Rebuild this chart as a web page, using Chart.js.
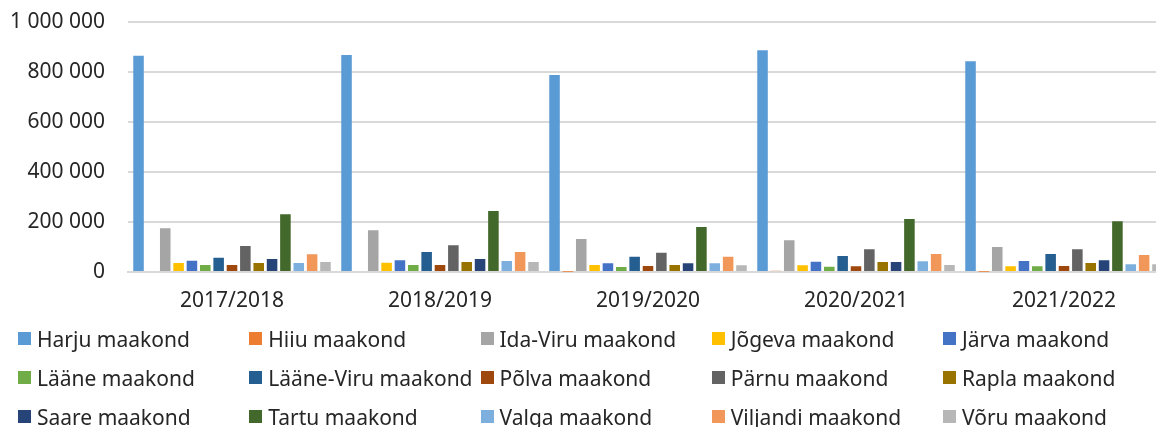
<!DOCTYPE html>
<html>
<head>
<meta charset="utf-8">
<script src="https://cdn.jsdelivr.net/npm/chart.js@4"></script>
<style>
    html, body { margin: 0; padding: 0; background: #fff; overflow: hidden; }
    #wrap { position: relative; width: 1156px; height: 427px; overflow: hidden; }
    #chart { position: absolute; left: 0; top: 0; }
    #legend { position: absolute; left: 0; top: 0; width: 1156px; height: 427px; font-family: "Noto Sans", sans-serif; font-size: 21px; color: #262626; }
    .item { position: absolute; white-space: nowrap; display: flex; align-items: center; height: 26px; line-height: 26px; }
    .box { width: 13px; height: 13px; margin-right: 6px; }
</style>
</head>
<body>
<div id="wrap">
    <canvas id="chart" width="1170" height="320"></canvas>
    <div id="legend"></div>
</div>
<script>
// Data
const years = ['2017/2018', '2018/2019', '2019/2020', '2020/2021', '2021/2022'];
const counties = ['Harju maakond', 'Hiiu maakond', 'Ida-Viru maakond', 'Jõgeva maakond', 'Järva maakond',
    'Lääne maakond', 'Lääne-Viru maakond', 'Põlva maakond', 'Pärnu maakond', 'Rapla maakond',
    'Saare maakond', 'Tartu maakond', 'Valga maakond', 'Viljandi maakond', 'Võru maakond'];
const colors = ['#5B9BD5', '#ED7D31', '#A5A5A5', '#FFC000', '#4472C4',
    '#70AD47', '#255E91', '#9E480E', '#636363', '#997300',
    '#264478', '#43682B', '#7CAFDD', '#F1975A', '#B7B7B7'];

const harju = [865000, 868000, 788000, 887000, 843000];
const hiiu = [4000, 4000, 1000, 5000, 1000];
const idaViru = [175000, 167000, 132000, 127000, 100000];
const jogeva = [36000, 37000, 28000, 27000, 23000];
const jarva = [45000, 47000, 35000, 41000, 44000];
const laane = [28000, 28000, 20000, 21000, 23000];
const laaneViru = [57000, 80000, 61000, 64000, 72000];
const polva = [28000, 28000, 24000, 23000, 24000];
const parnu = [104000, 107000, 77000, 91000, 91000];
const rapla = [36000, 40000, 28000, 40000, 36000];
const saare = [52000, 52000, 35000, 40000, 47000];
const tartu = [231000, 244000, 180000, 212000, 203000];
const valga = [36000, 44000, 35000, 43000, 31000];
const viljandi = [71000, 80000, 61000, 72000, 68000];
const voru = [40000, 40000, 27000, 28000, 31000];

const seriesValues = [harju, hiiu, idaViru, jogeva, jarva, laane, laaneViru, polva,
    parnu, rapla, saare, tartu, valga, viljandi, voru];

const yTicks = [0, 200000, 400000, 600000, 800000, 1000000];

function formatNumber(v) {
    return String(v).replace(/\B(?=(\d{3})+(?!\d))/g, ' ');
}

const fontFamily = '"Noto Sans", sans-serif';

const datasets = counties.map((name, i) => ({
    label: name,
    data: seriesValues[i],
    backgroundColor: colors[i],
    barPercentage: 0.79,
    categoryPercentage: 0.963
}));

new Chart(document.getElementById('chart').getContext('2d'), {
    type: 'bar',
    data: { labels: years, datasets: datasets },
    options: {
        responsive: false,
        animation: false,
        layout: { padding: { top: 22, left: 0, right: 2, bottom: 0 } },
        plugins: {
            legend: { display: false },
            tooltip: { enabled: false }
        },
        scales: {
            y: {
                min: 0,
                max: 1000000,
                afterBuildTicks: function(scale) {
                    scale.ticks = yTicks.map(v => ({ value: v }));
                },
                afterFit: function(scale) {
                    scale.width = 128;
                    scale.paddingTop = 0;
                    scale.paddingBottom = 0;
                },
                border: { display: false },
                grid: { color: '#d9d9d9', lineWidth: 2, drawTicks: false },
                ticks: {
                    padding: 23,
                    color: '#262626',
                    font: { family: fontFamily, size: 21 },
                    callback: function(value) { return formatNumber(value); }
                }
            },
            x: {
                afterFit: function(scale) { scale.height = 48; },
                border: { color: '#d9d9d9', width: 2 },
                grid: { display: false },
                ticks: {
                    padding: 8,
                    color: '#262626',
                    font: { family: fontFamily, size: 21 }
                }
            }
        }
    }
});

// Legend: 5 equal columns, 3 rows
const legend = document.getElementById('legend');
counties.forEach((name, i) => {
    const item = document.createElement('div');
    item.className = 'item';
    item.style.left = (18 + (i % 5) * 231.25) + 'px';
    item.style.top = (338.5 + Math.floor(i / 5) * 39 - 13) + 'px';
    item.innerHTML = `<span class="box" style="background:${colors[i]}"></span>${name}`;
    legend.appendChild(item);
});
</script>
</body>
</html>
